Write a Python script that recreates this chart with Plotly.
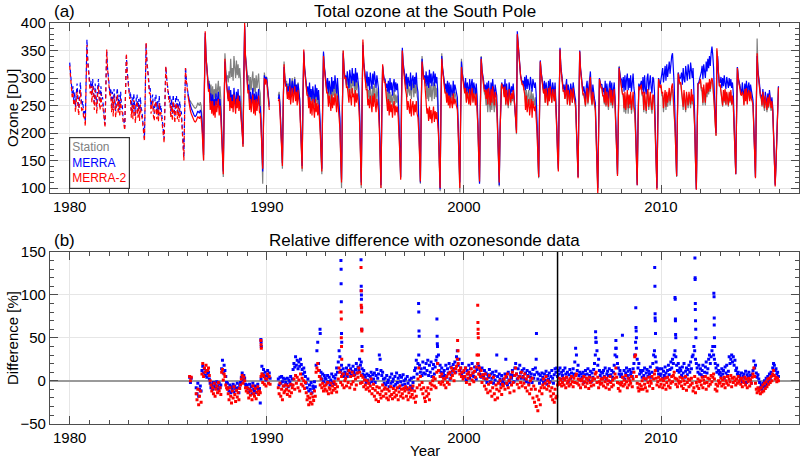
import plotly.graph_objects as go

N = None
STEPS = 24  # semi-monthly samples per year

# ---- Panel (a): total ozone [DU], one row per year (1980-2015) ----
top_years = list(range(1980, 2016))

merra_total = [
    [328,305,300,272,285,258,275,248,270,290,262,245,275,292,262,250,258,232,240,220,300,370,332,312],
    [305,282,295,268,298,272,255,290,262,248,282,298,270,255,285,262,265,238,230,215,290,350,320,300],
    [298,272,282,250,275,245,280,258,240,268,282,248,270,242,275,252,250,228,222,210,280,340,312,295],
    [290,268,275,242,265,238,272,250,232,262,270,240,262,235,265,245,240,222,208,190,275,362,330,305],
    [300,278,282,248,262,270,242,235,265,270,238,258,232,268,242,250,235,218,202,190,260,320,300,288],
    [282,262,270,240,262,235,270,245,230,262,268,238,262,232,258,240,238,212,180,155,245,320,298,282],
    [272,262,256,250,245,240,237,234,231,230,232,236,240,238,236,242,238,222,188,160,285,382,338,312],
    [302,280,290,255,272,248,270,245,262,240,272,250,262,275,245,262,240,208,160,130,245,330,305,288],
    [282,262,285,250,278,255,270,248,282,258,245,275,255,280,250,268,252,225,205,180,305,395,340,318],
    [302,278,288,255,275,250,268,282,248,272,245,275,252,270,280,250,248,218,170,130,225,305,290,302],
    [298,278,268,248,N,N,N,N,N,N,N,N,N,N,262,270,250,212,175,145,255,320,298,288],
    [290,270,285,275,300,268,282,295,270,285,298,272,288,265,290,275,262,222,180,140,265,348,318,298],
    [295,275,285,262,292,265,280,258,285,270,255,288,265,282,260,278,255,218,170,135,255,348,322,302],
    [298,280,300,272,295,285,270,302,275,295,280,305,285,272,300,278,268,228,160,115,245,345,318,302],
    [305,288,312,292,282,315,298,290,318,295,308,285,318,292,310,295,282,238,160,110,255,360,328,310],
    [305,290,312,285,302,278,310,292,280,308,288,312,290,282,305,292,280,228,150,105,235,322,308,298],
    [298,282,290,275,295,272,300,278,292,268,288,298,275,292,278,290,268,222,165,120,265,355,328,308],
    [305,288,308,280,302,292,285,310,278,298,305,282,302,288,310,285,275,228,160,110,245,335,315,302],
    [305,290,312,285,305,282,315,290,308,285,302,312,285,308,290,302,278,222,150,98,245,340,318,298],
    [295,280,290,272,295,268,292,262,288,275,268,295,272,288,278,268,265,218,155,110,235,330,310,295],
    [292,278,300,270,292,282,272,298,268,290,298,270,292,282,270,290,268,222,160,108,245,338,315,298],
    [295,280,288,272,292,265,295,272,262,292,270,298,275,262,288,280,268,218,150,105,205,285,292,285],
    [288,272,298,265,290,268,262,292,282,268,285,275,290,265,262,235,205,385,362,338,318,305,298,292],
    [295,282,302,278,305,280,298,290,278,302,292,275,298,288,282,292,270,222,165,120,235,332,312,298],
    [292,278,295,268,292,275,265,295,272,298,278,268,292,275,270,292,265,218,165,135,265,355,322,302],
    [295,280,288,272,285,298,265,288,278,262,290,282,268,292,275,268,260,212,160,120,255,350,318,298],
    [290,275,285,272,262,285,295,268,288,300,312,278,265,288,270,262,255,208,150,100,205,300,292,288],
    [288,275,282,268,295,265,290,270,262,288,295,268,292,265,285,292,265,218,165,125,225,320,308,298],
    [298,282,302,275,305,278,298,308,278,300,282,305,275,298,308,282,270,218,150,105,220,290,282,292],
    [295,278,302,272,305,280,270,300,308,278,292,305,282,272,302,298,275,222,145,100,215,300,292,288],
    [298,305,318,292,312,322,295,325,302,318,330,308,332,340,345,322,288,232,170,122,235,310,302,298],
    [302,310,288,318,298,292,322,302,295,325,302,298,328,308,300,318,288,232,150,98,205,290,292,298],
    [302,310,322,298,325,308,300,330,312,335,318,340,322,345,357,342,318,268,225,200,305,340,308,292],
    [292,302,282,300,285,305,290,280,302,288,282,300,285,298,282,292,272,222,165,125,235,320,302,292],
    [290,278,272,292,275,265,290,272,295,268,285,292,270,288,278,268,260,212,160,120,245,340,312,292],
    [288,272,268,258,280,262,252,275,260,250,272,255,278,262,252,265,248,202,150,105,145,200,268,285],
]

merra2_total = [
    [322,298,292,265,272,250,262,238,258,275,248,232,262,278,248,238,245,225,230,212,290,360,328,305],
    [298,272,285,255,285,258,242,278,248,235,270,285,255,242,272,248,252,230,225,210,285,352,318,298],
    [292,265,272,238,262,230,268,245,228,255,270,235,258,230,262,240,238,220,215,205,270,345,310,290],
    [285,262,265,228,252,225,260,238,218,250,258,228,250,222,252,232,228,215,202,185,270,365,328,300],
    [295,272,272,235,250,258,230,222,252,258,225,245,220,255,230,238,225,210,198,182,255,322,300,285],
    [278,255,260,228,250,222,258,232,218,250,255,225,250,220,245,228,228,205,175,150,240,318,295,280],
    [268,255,248,240,235,230,227,224,221,220,222,226,230,228,226,231,226,210,182,150,280,385,338,310],
    [298,275,280,242,258,235,258,232,250,228,258,238,250,262,232,250,228,198,155,125,240,335,302,285],
    [280,258,278,240,265,245,258,238,270,248,235,262,245,268,240,258,242,218,200,175,300,400,340,315],
    [298,272,278,242,262,238,255,270,235,260,232,262,240,258,268,238,235,208,168,135,222,300,288,298],
    [292,272,262,242,N,N,N,N,N,N,N,N,N,N,258,262,238,202,170,140,250,325,295,285],
    [285,262,275,260,285,252,268,282,255,270,285,258,275,250,278,260,250,212,175,135,260,352,315,295],
    [290,268,270,245,265,235,258,232,262,245,228,262,238,255,232,252,232,202,165,130,250,340,318,298],
    [292,272,275,248,268,252,240,270,245,265,250,272,255,238,268,245,240,208,155,110,240,350,315,298],
    [302,282,285,260,255,280,262,250,282,265,272,248,278,255,272,258,248,218,155,105,250,370,328,305],
    [300,278,280,250,262,245,268,252,238,268,248,272,250,238,262,250,240,208,145,100,230,325,305,292],
    [292,272,265,240,262,232,258,238,252,228,248,258,232,250,238,248,228,202,160,115,260,350,322,302],
    [298,278,270,242,258,245,235,262,230,250,258,232,252,238,258,235,228,202,155,112,240,330,312,298],
    [298,278,262,235,245,222,248,225,242,218,235,248,220,240,225,238,218,198,145,100,240,335,315,295],
    [290,272,275,255,272,250,268,245,265,255,245,272,252,262,255,245,242,202,150,100,230,320,305,290],
    [288,272,282,255,275,265,252,280,250,270,282,255,272,265,250,272,250,212,158,112,240,335,312,295],
    [290,275,278,262,280,252,282,258,250,280,255,285,262,250,275,268,252,208,150,110,205,282,290,282],
    [282,265,285,252,278,258,250,280,270,255,272,262,278,252,248,225,200,380,358,332,315,305,295,288],
    [288,275,270,242,268,238,258,262,232,255,262,228,258,248,240,250,232,202,160,120,232,330,310,295],
    [288,272,280,255,282,262,250,282,258,285,265,255,280,262,258,280,252,208,160,130,260,352,318,300],
    [290,275,278,262,272,288,252,278,268,250,280,272,255,282,265,255,250,205,155,118,250,348,315,295],
    [285,270,272,262,250,272,282,255,275,288,302,265,252,275,258,252,245,198,140,88,200,298,290,282],
    [282,268,268,255,282,250,275,258,248,275,282,255,278,250,270,280,252,208,160,122,220,318,302,292],
    [288,270,272,245,275,242,262,278,245,270,252,275,242,262,275,248,242,202,145,105,215,285,278,285],
    [288,270,275,242,275,255,240,270,280,248,258,275,252,242,270,268,248,208,140,97,210,298,288,282],
    [288,272,275,245,265,278,248,275,255,265,282,258,275,285,290,265,248,212,165,122,230,308,298,290],
    [292,278,270,248,278,258,242,275,258,250,275,260,252,280,258,270,250,212,148,97,202,288,290,292],
    [298,282,282,255,288,268,255,292,272,292,275,298,280,295,300,292,275,248,218,195,354,328,298,285],
    [288,275,272,250,278,258,280,252,275,260,250,275,258,278,252,268,252,208,160,125,232,318,300,288],
    [285,270,268,275,270,250,280,258,282,252,272,278,258,275,262,258,250,205,155,118,242,345,310,290],
    [282,268,265,250,275,255,245,268,252,242,265,248,270,255,245,258,242,198,145,103,142,195,262,283],
]

station_years = list(range(1986, 2016))
station_total = [
    [N,N,256,258,255,252,250,248,246,245,246,250,255,252,250,256,250,230,188,150,275,375,338,310],
    [302,285,295,270,288,262,285,262,280,258,290,265,282,295,262,285,262,222,160,120,245,345,318,298],
    [305,292,312,300,335,302,318,295,340,308,300,332,305,325,300,318,298,248,210,175,300,390,342,322],
    [312,295,305,272,302,278,298,312,275,300,272,305,282,295,308,280,272,228,160,108,220,310,298,300],
    [302,282,270,252,N,N,N,N,N,N,N,N,N,N,268,275,255,218,170,135,252,330,302,292],
    [295,278,290,280,298,265,288,300,275,290,302,272,285,270,292,278,262,222,175,130,258,345,320,300],
    [292,270,282,255,280,250,275,262,278,258,248,278,255,272,252,270,250,212,160,125,250,345,320,300],
    [295,278,288,262,282,270,255,288,262,282,268,290,272,255,285,262,255,218,150,100,240,350,318,300],
    [302,285,298,275,268,300,282,272,302,285,295,270,300,278,295,280,265,228,150,100,250,365,328,308],
    [300,282,292,262,278,262,285,268,252,285,265,290,268,255,282,268,255,218,145,100,232,320,302,295],
    [295,278,278,255,280,250,275,255,270,248,265,278,252,270,255,268,248,212,160,118,262,350,322,302],
    [300,285,295,265,290,275,268,295,262,285,292,265,288,272,295,268,260,218,155,108,245,340,318,300],
    [300,285,292,262,285,258,292,265,288,258,280,292,262,288,265,282,255,208,140,94,245,345,318,296],
    [292,275,282,262,282,258,280,252,278,265,255,282,262,275,265,255,250,208,150,92,230,335,308,292],
    [290,275,288,258,280,272,255,285,255,275,288,258,280,272,255,278,252,212,155,110,242,340,315,298],
    [288,272,268,250,268,238,270,245,238,268,242,272,250,238,262,255,242,202,148,103,202,285,290,282],
    [285,268,280,250,275,252,245,275,265,250,268,258,275,248,245,222,198,378,355,332,315,302,295,288],
    [292,278,282,255,278,250,270,278,250,270,278,245,272,262,250,265,242,210,160,118,232,330,310,295],
    [288,272,282,255,285,262,250,285,258,290,268,255,285,265,258,285,252,210,162,132,260,352,318,300],
    [290,275,278,262,270,290,252,278,270,250,282,272,255,285,265,255,245,205,155,120,250,348,315,295],
    [285,268,270,262,248,270,282,252,272,288,300,262,250,272,255,250,240,195,142,95,200,298,288,282],
    [280,268,265,252,280,248,272,255,242,272,280,250,275,245,268,280,248,205,160,124,222,322,302,292],
    [285,268,265,238,268,235,255,272,235,262,245,268,235,255,268,242,235,198,145,108,215,288,280,285],
    [285,268,268,238,268,250,235,265,275,242,252,268,245,235,265,262,240,202,140,99,210,299,288,282],
    [285,268,268,238,260,272,242,268,248,260,275,250,268,278,280,258,242,208,165,120,230,310,298,288],
    [290,275,262,242,272,252,238,270,252,245,270,255,245,275,252,265,245,208,146,98,202,290,290,292],
    [295,278,275,250,280,262,250,288,265,288,270,292,275,290,295,288,270,245,215,195,350,330,298,285],
    [288,275,268,248,275,255,278,250,272,258,248,272,255,275,250,265,250,205,160,126,232,320,300,288],
    [288,275,270,278,272,252,285,262,288,258,275,282,262,280,268,262,252,208,155,120,245,372,318,292],
    [280,265,262,248,272,250,240,265,250,238,262,245,268,252,240,255,238,195,148,108,145,198,265,284],
]

# ---- Panel (b): relative difference with ozonesonde data [%] (1986-2015) ----
sonde_years = list(range(1986, 2016))

merra_diff = [
    [N,N,4,-2,3,N,N,N,N,N,-8,-15,-3,-18,-10,-6,-12,12,17,9,14,6,11,4],
    [8,10,2,-3,-8,-5,-10,-2,-7,-4,-9,-1,-6,-10,-3,-8,-5,14,24,9,18,12,5,-2],
    [-3,-8,-12,-5,-14,-7,-10,-4,-13,-6,-9,-11,-3,-8,-14,-5,-2,4,9,1,6,3,-4,-6],
    [-5,-9,-13,-4,-11,-7,-15,-3,-10,-12,-6,-14,-8,-4,-11,-9,-26,2,17,8,13,5,10,1],
    [6,12,4,9,3,N,N,N,N,N,N,N,N,N,2,-5,4,-3,5,-1,3,-6,2,-2],
    [-4,3,-7,1,-2,5,-5,2,13,20,16,28,18,24,14,22,17,25,19,13,8,15,10,5],
    [-3,-8,2,-12,-5,-10,-2,-14,-6,-9,-1,-7,18,35,45,20,12,5,10,2,8,-1,6,3],
    [2,-3,6,-1,4,-5,1,8,-2,5,-4,3,7,15,10,22,35,28,12,18,8,14,5,10],
    [8,15,5,12,18,9,14,6,11,17,10,7,13,20,9,16,12,25,18,22,14,8,12,6],
    [4,-2,8,1,6,-3,5,10,-1,7,2,9,-2,6,13,3,8,30,25,12,6,10,2,-3],
    [3,-5,6,-2,1,-7,4,-3,8,-1,2,-6,5,-4,9,-2,3,-8,6,-1,4,-5,7,0],
    [-4,2,-8,5,-3,-10,1,-6,3,-9,-2,4,12,15,24,8,20,30,18,10,14,6,22,9],
    [15,8,20,12,24,6,18,10,22,5,14,19,8,16,24,28,20,30,12,18,10,15,5,9],
    [12,6,18,4,14,9,20,2,16,7,11,19,14,22,10,28,35,18,25,12,15,8,20,5],
    [10,4,15,1,12,8,18,3,14,6,20,9,5,16,11,2,13,20,17,8,12,4,15,7],
    [6,12,2,9,-2,7,4,13,-1,8,3,10,-3,6,1,11,30,5,-2,8,2,-4,6,-1],
    [2,-3,8,25,4,-5,10,1,-2,7,3,12,6,-1,15,20,8,2,14,5,18,9,3,12],
    [5,14,2,9,-1,12,6,-3,10,4,8,-2,13,3,7,15,25,10,2,8,-3,6,1,9],
    [4,-2,8,1,11,-4,6,2,9,-1,5,12,3,-3,7,14,10,15,5,12,8,15,2,10],
    [6,12,2,15,8,4,10,-1,7,13,3,9,5,14,8,22,38,30,12,18,6,10,2,8],
    [4,10,-2,7,12,3,8,14,1,6,11,-1,9,4,13,20,30,45,35,18,25,12,6,10],
    [3,9,12,5,15,2,8,11,6,14,-1,7,12,4,10,18,30,38,28,20,15,8,12,5],
    [8,53,4,12,2,9,15,6,11,3,13,7,10,5,14,20,30,45,38,25,15,20,8,12],
    [10,4,12,6,15,2,9,13,5,11,8,16,4,10,20,30,35,28,22,15,12,8,14,6],
    [8,14,3,11,6,16,9,4,12,18,7,13,22,15,25,20,30,35,28,18,12,20,10,15],
    [12,6,16,9,20,4,11,15,7,13,18,10,22,14,28,30,40,35,25,20,15,10,18,8],
    [14,7,12,18,5,10,16,22,9,14,25,30,20,28,35,40,30,25,20,15,10,18,12,8],
    [10,5,14,8,12,3,16,9,18,6,11,28,20,25,30,22,28,18,24,12,15,8,10,5],
    [6,2,9,-1,5,8,3,11,-2,7,4,10,1,6,-3,8,12,23,15,18,9,4,7,2],
    [-2,-8,-5,-10,-3,-7,0,-6,3,-4,5,-1,8,2,10,6,15,20,18,12,14,8,10,5],
]

merra2_diff = [
    [N,N,5,0,4,N,N,N,N,N,-15,-22,-10,-28,-18,-12,-25,8,20,5,15,10,18,12],
    [12,15,6,0,-5,-12,-8,-15,-3,-18,-10,-6,-14,-2,-12,-8,-16,10,13,1,8,5,-5,-8],
    [-10,-15,-22,-8,-18,-26,-12,-20,-7,-16,-24,-11,-19,-14,-22,-9,-5,2,6,-3,4,0,-8,-12],
    [-8,-14,-20,-10,-17,-12,-22,-6,-15,-18,-9,-21,-13,-7,-16,-12,-14,5,8,-2,6,-4,3,-6],
    [2,8,-3,5,-4,N,N,N,N,N,N,N,N,N,-8,-15,-3,-18,-10,-22,-6,-14,-12,-5],
    [-10,-16,-6,-12,-18,-4,-14,-8,-5,2,-10,6,-3,4,-8,1,-12,8,-4,3,-6,0,-9,-2],
    [-14,-22,-18,-28,-20,-25,-15,-27,-19,-23,-12,-18,10,15,20,12,5,-5,2,-8,-3,-12,-6,-10],
    [-5,-12,-2,-15,-8,-10,-3,-14,-6,-11,-1,-9,-4,-13,-7,2,15,10,-2,5,-5,8,-8,0],
    [3,-6,8,-2,12,-8,5,-4,10,-1,6,-10,2,-5,9,4,15,10,-3,6,-2,4,-7,1],
    [-5,-10,0,-8,-3,-12,-6,2,-15,-9,-4,-18,-11,-22,-7,-14,-24,-8,-16,-20,-12,-5,-18,-10],
    [-8,-15,-20,-10,-22,-12,-18,-7,-16,-21,-9,-14,-19,-11,-17,-8,-22,-13,-6,-18,-10,-15,-20,-9],
    [-12,-7,-18,-10,-22,-14,-8,-19,-11,-16,-6,-20,-12,-25,-18,-8,2,15,-5,5,-10,-2,-15,-8],
    [-20,-24,-12,-18,-8,-15,-22,-3,-10,-5,0,4,-6,2,-8,10,20,12,-2,5,-4,8,-1,3],
    [-5,2,-8,5,-2,8,-4,10,3,15,6,12,0,9,14,17,25,20,12,8,15,5,10,2],
    [12,5,15,-2,8,3,10,-4,6,14,1,9,-1,11,4,16,30,20,8,15,5,12,-2,7],
    [3,-6,8,-10,2,-14,-4,6,-12,-2,-18,-8,4,-15,-22,-5,-10,-20,-3,-12,0,-8,-16,-4],
    [-6,2,-10,5,-3,8,-8,0,-14,4,-5,10,-2,-12,6,15,8,-4,3,-8,5,-2,10,-6],
    [4,-3,8,-8,2,-12,5,-5,-15,0,-10,3,-20,-6,-25,-10,-30,-18,-35,-22,-12,-28,-8,-15],
    [-5,2,-8,-3,5,-10,0,-6,-2,-12,-18,-8,-22,-15,-25,-10,-20,-18,-5,-2,3,-4,1,-6],
    [-2,3,-5,1,-8,4,-3,0,-6,2,-4,5,-1,-7,3,-2,6,8,-3,2,-5,1,-8,0],
    [2,-4,5,-1,-7,3,-3,1,-9,4,-2,-6,0,3,-5,2,8,10,-2,4,-8,-1,-4,2],
    [-3,2,-6,4,-1,-8,3,-4,0,-10,5,-2,-7,1,-5,3,8,15,4,-2,-9,-3,-12,-5],
    [-2,4,-6,1,-4,6,-1,-8,3,-5,0,-3,5,-7,2,10,28,30,5,-3,-8,-12,-4,-10],
    [-6,0,-10,3,-4,-8,2,-12,-2,4,-6,0,-3,5,-9,2,8,12,3,-5,-1,4,-7,1],
    [-4,2,-8,0,-5,3,-10,-2,4,-6,1,-8,-3,5,-1,6,10,3,-4,2,-7,0,-3,4],
    [-1,-6,3,-9,0,-4,5,-11,-2,2,-7,1,-5,3,-3,-12,-8,5,-14,-2,-6,2,-9,-1],
    [0,-5,4,-8,1,-3,5,-10,-2,3,-6,2,-4,6,-1,4,8,2,-10,-4,-12,-6,0,-3],
    [-2,3,-6,1,-4,4,-8,0,-3,5,-5,2,-1,6,-7,3,-2,4,0,-5,2,-3,5,-1],
    [1,-4,3,-7,0,-2,4,-5,2,-8,-1,3,-6,1,-3,4,8,15,5,-3,-10,-14,-8,-12],
    [-10,-15,-8,-13,-5,-12,-3,-9,-1,-7,2,-4,3,-2,5,0,8,12,6,2,4,-1,3,0],
]

# ozone-hole outliers (sonde profiles at very low ozone)
merra_spike_t = [1989.70,1989.71,1989.72, 1992.70,1992.71,
                 1993.76,1993.77,1993.77,1993.78,1993.79,1993.80,
                 1994.78,1994.79,1994.79,1994.80,1994.80,1994.81,1994.82,1994.83,
                 1997.70,1997.71,1997.72,1997.73, 1998.63,1998.64,1998.65,1998.66,
                 2003.68, 2006.68,2006.69,2006.70, 2007.71,2007.72,
                 2008.72,2008.73,2008.74,2008.75,
                 2009.68,2009.69,2009.70,2009.70,2009.71,2009.72,
                 2010.71,2010.72,2010.73,2010.73,2010.74,2010.75,
                 2011.72,2011.73,2011.73,2011.74,2011.74,2011.75,2011.76,2011.77,
                 2012.68,2012.69,2012.70,2012.70,2012.71,2012.72]
merra_spike_v = [48,45,40, 60,55,
                 140,130,113,92,55,45,
                 141,110,105,100,95,85,60,40,
                 90,80,58,52, 72,52,43,40,
                 55, 57,50,45, 47,38,
                 85,62,58,50,
                 132,110,78,73,70,55,
                 97,95,72,70,54,50,
                 143,120,118,90,83,70,60,50,
                 102,98,73,65,50,40]
merra2_spike_t = [1989.70,1989.71,1989.72,
                  1993.77,1993.78,1993.78,1993.79,1993.80,
                  1994.78,1994.79,1994.79,1994.80,1994.81,1994.81,1994.82,1994.83,
                  1999.68,1999.70,
                  2000.70,2000.71,2000.72,2000.72,2000.73,2000.74]
merra2_spike_v = [47,42,38,
                  80,72,50,40,25,
                  132,105,88,85,80,60,58,35,
                  47,35,
                  88,68,60,55,50,30]

for name, rows in [("merra_total", merra_total), ("merra2_total", merra2_total),
                   ("station_total", station_total), ("merra_diff", merra_diff),
                   ("merra2_diff", merra2_diff)]:
    for i, row in enumerate(rows):
        assert len(row) == STEPS, (name, i, len(row))
assert len(merra_spike_t) == len(merra_spike_v)
assert len(merra2_spike_t) == len(merra2_spike_v)


def flatten(years, rows):
    t, v = [], []
    for y, row in zip(years, rows):
        for k, val in enumerate(row):
            t.append(y + k / STEPS)
            v.append(val)
    return t, v


t_m, v_m = flatten(top_years, merra_total)
t_m2, v_m2 = flatten(top_years, merra2_total)
t_s, v_s = flatten(station_years, station_total)
t_d, v_d = flatten(sonde_years, merra_diff)
t_d2, v_d2 = flatten(sonde_years, merra2_diff)

split = 6 * STEPS  # before 1986 the reanalyses are drawn dashed

GRAY = "#808080"
BLUE = "#0000ff"
RED = "#ff0000"

fig = go.Figure()

fig.add_trace(go.Scatter(x=t_s, y=v_s, mode="lines", line=dict(color=GRAY, width=1.2),
                         xaxis="x", yaxis="y"))
fig.add_trace(go.Scatter(x=t_m[:split + 1], y=v_m[:split + 1], mode="lines",
                         line=dict(color=BLUE, width=1.2, dash="4px,3px"), xaxis="x", yaxis="y"))
fig.add_trace(go.Scatter(x=t_m2[:split + 1], y=v_m2[:split + 1], mode="lines",
                         line=dict(color=RED, width=1.2, dash="4px,3px"), xaxis="x", yaxis="y"))
fig.add_trace(go.Scatter(x=t_m[split:], y=v_m[split:], mode="lines",
                         line=dict(color=BLUE, width=1.2), xaxis="x", yaxis="y"))
fig.add_trace(go.Scatter(x=t_m2[split:], y=v_m2[split:], mode="lines",
                         line=dict(color=RED, width=1.2), xaxis="x", yaxis="y"))

fig.add_trace(go.Scatter(x=t_d + merra_spike_t, y=v_d + merra_spike_v, mode="markers",
                         marker=dict(color=BLUE, size=3, symbol="square", line=dict(width=0)),
                         xaxis="x2", yaxis="y2"))
fig.add_trace(go.Scatter(x=t_d2 + merra2_spike_t, y=v_d2 + merra2_spike_v, mode="markers",
                         marker=dict(color=RED, size=3, symbol="square", line=dict(width=0)),
                         xaxis="x2", yaxis="y2"))

# ── axes ──────────────────────────────────────────────────────────────────────
FRAME = "#4d4d4d"
common = dict(showline=True, linecolor=FRAME, linewidth=1.2, mirror="allticks",
              ticks="inside", ticklen=8, tickwidth=1, tickcolor=FRAME,
              showgrid=True, gridcolor="#e6e6e6", gridwidth=1, automargin=False,
              tickfont=dict(size=15, color="black"))
xcommon = dict(common, range=[1979, 2017], tick0=1980, dtick=10,
               minor=dict(ticks="inside", ticklen=4, tickcolor=FRAME, dtick=1, showgrid=False))

fig.update_layout(
    width=800, height=458,
    margin=dict(l=50, r=1, t=0, b=0),
    plot_bgcolor="white", paper_bgcolor="white",
    showlegend=False,
    font=dict(family="Liberation Sans, Arial, sans-serif", size=15, color="black"),
    xaxis=dict(xcommon, domain=[0, 1], anchor="y", zeroline=False),
    yaxis=dict(common, domain=[1 - 193 / 458, 1 - 23 / 458], anchor="x",
               range=[91, 400], tick0=100, dtick=50, zeroline=False,
               minor=dict(ticks="inside", ticklen=4, tickcolor=FRAME, dtick=10, showgrid=False)),
    xaxis2=dict(xcommon, domain=[0, 1], anchor="y2", zeroline=False),
    yaxis2=dict(common, domain=[1 - 423.7 / 458, 1 - 252 / 458], anchor="x2",
                range=[-50, 150], tick0=0, dtick=50,
                zeroline=True, zerolinecolor="#9a9a9a", zerolinewidth=1.5,
                minor=dict(ticks="inside", ticklen=4, tickcolor=FRAME, dtick=10, showgrid=False)),
)

fig.add_shape(type="line", xref="x2", yref="y2 domain", x0=2004.75, x1=2004.75, y0=0, y1=1,
              line=dict(color="black", width=1.5))


def px_x(px):
    return (px - 50) / 749


def px_y(py):
    return 1 - py / 458


notes = [
    dict(text="(a)", x=px_x(52), y=px_y(11), xanchor="left", yanchor="middle", font=dict(size=17)),
    dict(text="Total ozone at the South Pole", x=0.5, y=px_y(11), xanchor="center",
         yanchor="middle", font=dict(size=17)),
    dict(text="(b)", x=px_x(52), y=px_y(240), xanchor="left", yanchor="middle", font=dict(size=17)),
    dict(text="Relative difference with ozonesonde data", x=0.5, y=px_y(240), xanchor="center",
         yanchor="middle", font=dict(size=17)),
    dict(text="Year", x=0.5, y=px_y(450), xanchor="center", yanchor="middle", font=dict(size=15)),
    dict(text="Ozone [DU]", x=px_x(12), y=px_y(108), xanchor="center", yanchor="middle",
         textangle=-90, font=dict(size=15)),
    dict(text="Difference [%]", x=px_x(12), y=px_y(338), xanchor="center", yanchor="middle",
         textangle=-90, font=dict(size=15)),
]
for n in notes:
    fig.add_annotation(xref="paper", yref="paper", showarrow=False, **n)

fig.add_annotation(
    xref="paper", yref="paper", x=px_x(69), y=px_y(137), xanchor="left", yanchor="top",
    text=(f"<span style='color:{GRAY}'>Station</span><br>"
          f"<span style='color:{BLUE}'>MERRA</span><br>"
          f"<span style='color:{RED}'>MERRA-2</span>"),
    align="left", showarrow=False, font=dict(size=12),
    bgcolor="white", bordercolor="#333333", borderwidth=1.2, borderpad=2,
)

# the page's default body margin would push the 800x458 figure off the window
fig.write_html("out.html", config={"displayModeBar": False},
               post_script="document.body.style.margin = '0px';")
